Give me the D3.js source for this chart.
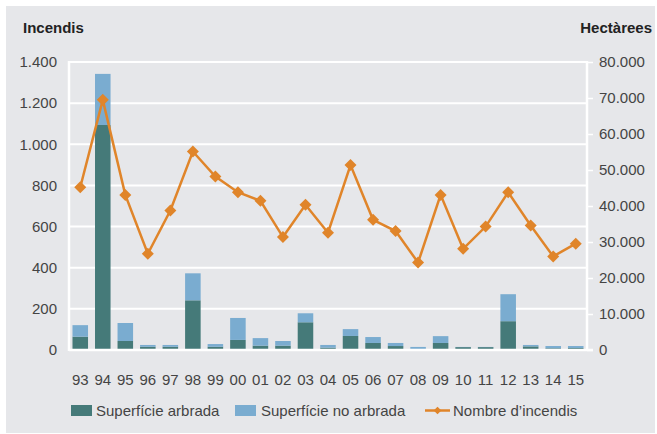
<!DOCTYPE html>
<html>
    <head>
        <meta charset="utf-8">
        <title>incendis</title>
        <script src="https://d3js.org/d3.v7.min.js"></script>
        <style>
            body { margin:0; background:#fff; }
            svg text { font-family: "Liberation Sans", Arial, sans-serif; }
        </style>
    </head>
    <body>
        <svg id="chart" width="657" height="434"></svg>
    </body>
    <script>
const years = ["93","94","95","96","97","98","99","00","01","02","03","04","05","06","07","08","09","10","11","12","13","14","15"];
// hectàrees
const arbrada   = [3700, 62500, 2500, 900, 900, 13800, 900, 2800, 1200, 1200, 7700, 650, 3900, 1950, 1100, 150, 1950, 800, 800, 8000, 1000, 500, 550];
const noArbrada = [3200, 14200, 5000, 500, 500, 7500, 750, 6100, 2100, 1300, 2500, 750, 1900, 1650, 850, 700, 1900, 50, 50, 7500, 400, 600, 550];
// nombre d'incendis
const incendis  = [791, 1216, 754, 468, 678, 965, 843, 767, 725, 549, 706, 570, 899, 633, 578, 425, 754, 492, 600, 767, 605, 455, 517];
const leftTicks = [0, 200, 400, 600, 800, 1000, 1200, 1400];
const rightTicks = [0, 10000, 20000, 30000, 40000, 50000, 60000, 70000, 80000];

const svg = d3.select('#chart');
const pLeft = 69, pRight = 587, pTop = 62, pBottom = 350;
const fmt = v => d3.format(',')(v).replace(/,/g, '.');

// panel
svg.append('rect').attr('x', 6).attr('y', 6).attr('width', 649).attr('height', 427).attr('fill', '#e6e7ea');

const x = d3.scaleBand().domain(years).range([pLeft, pRight]).paddingInner(0.31).paddingOuter(0.155);
const yL = d3.scaleLinear().domain([0, 1400]).range([pBottom, pTop]);
const yR = d3.scaleLinear().domain([0, 80000]).range([pBottom, pTop]);

// gridlines
svg.append('g').selectAll('line').data(leftTicks.filter(d => d > 0)).join('line')
    .attr('x1', pLeft).attr('x2', pRight)
    .attr('y1', d => yL(d)).attr('y2', d => yL(d))
    .attr('stroke', '#fff').attr('stroke-width', 2);

// stacked bars
const rows = years.map((y, i) => ({year: y, arbrada: arbrada[i], noArbrada: noArbrada[i]}));
const stack = d3.stack().keys(['arbrada', 'noArbrada'])(rows);
const colors = {arbrada: '#457a79', noArbrada: '#7aacd0'};
svg.append('g').selectAll('g').data(stack).join('g')
    .attr('fill', s => colors[s.key])
    .selectAll('rect').data(s => s).join('rect')
    .attr('x', d => x(d.data.year))
    .attr('width', x.bandwidth())
    .attr('y', d => yR(d[1]))
    .attr('height', d => yR(d[0]) - yR(d[1]));

// axes lines
svg.append('line').attr('x1', pLeft).attr('x2', pLeft).attr('y1', pTop - 1).attr('y2', pBottom + 1)
    .attr('stroke', '#fff').attr('stroke-width', 2.5);
svg.append('line').attr('x1', pRight).attr('x2', pRight).attr('y1', pTop - 1).attr('y2', pBottom + 1)
    .attr('stroke', '#fff').attr('stroke-width', 2.5);
svg.append('line').attr('x1', pLeft).attr('x2', pRight + 6).attr('y1', pBottom).attr('y2', pBottom)
    .attr('stroke', '#fff').attr('stroke-width', 2.5);

// left axis
const axL = svg.append('g').attr('transform', `translate(${pLeft},0)`)
    .call(d3.axisLeft(yL).tickValues(leftTicks).tickFormat(fmt).tickSize(0).tickPadding(12));
axL.select('.domain').remove();
axL.selectAll('text').attr('font-size', 15).attr('fill', '#444');

// right axis
const axR = svg.append('g').attr('transform', `translate(${pRight},0)`)
    .call(d3.axisRight(yR).tickValues(rightTicks).tickFormat(fmt).tickSize(6).tickPadding(6));
axR.select('.domain').remove();
axR.selectAll('line').attr('stroke', '#fff').attr('stroke-width', 1.5);
axR.selectAll('text').attr('font-size', 15).attr('fill', '#444');

// x axis
const axX = svg.append('g').attr('transform', `translate(0,${pBottom})`)
    .call(d3.axisBottom(x).tickSize(0).tickPadding(24));
axX.select('.domain').remove();
axX.selectAll('text').attr('font-size', 15).attr('fill', '#444');

// line
const orange = '#e0852a';
const line = d3.line().x((d, i) => x(years[i]) + x.bandwidth() / 2).y(d => yL(d));
svg.append('path').datum(incendis).attr('d', line)
    .attr('fill', 'none').attr('stroke', orange).attr('stroke-width', 2.5);
svg.append('g').selectAll('path').data(incendis).join('path')
    .attr('d', d3.symbol(d3.symbolSquare, 72))
    .attr('transform', (d, i) => `translate(${x(years[i]) + x.bandwidth() / 2},${yL(d)}) rotate(45)`)
    .attr('fill', orange);

// titles
svg.append('text').attr('x', 23).attr('y', 33).text('Incendis')
    .attr('font-size', 15).attr('font-weight', 'bold').attr('fill', '#222');
svg.append('text').attr('x', 652).attr('y', 33).attr('text-anchor', 'end').text('Hectàrees')
    .attr('font-size', 15).attr('font-weight', 'bold').attr('fill', '#222');

// legend
const lg = svg.append('g').attr('font-size', 15).attr('fill', '#444');
lg.append('rect').attr('x', 71).attr('y', 405).attr('width', 21).attr('height', 11).attr('fill', colors.arbrada);
lg.append('text').attr('x', 96).attr('y', 416).text('Superfície arbrada');
lg.append('rect').attr('x', 235).attr('y', 405).attr('width', 21).attr('height', 11).attr('fill', colors.noArbrada);
lg.append('text').attr('x', 261).attr('y', 416).text('Superfície no arbrada');
lg.append('line').attr('x1', 425).attr('x2', 450).attr('y1', 410.5).attr('y2', 410.5)
    .attr('stroke', orange).attr('stroke-width', 2.5);
lg.append('path').attr('d', d3.symbol(d3.symbolSquare, 30))
    .attr('transform', 'translate(437.5,410.5) rotate(45)').attr('fill', orange);
lg.append('text').attr('x', 453).attr('y', 416).text('Nombre d’incendis');
    </script>
</html>
